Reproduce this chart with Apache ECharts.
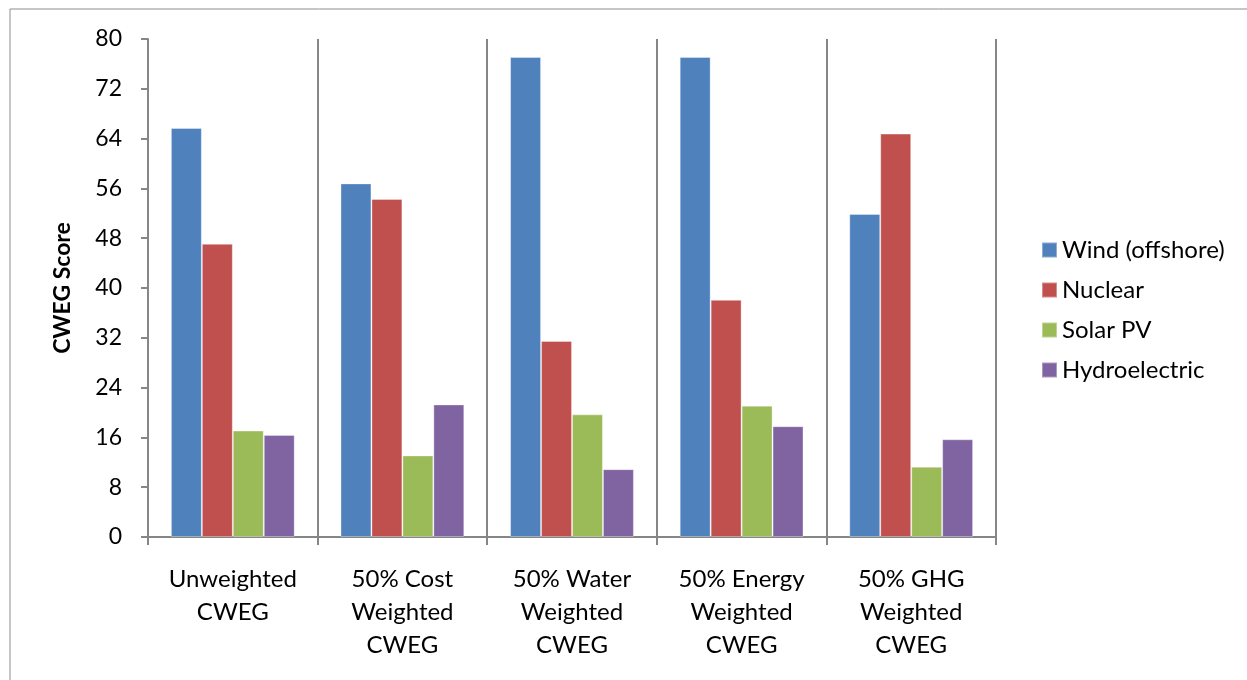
<!DOCTYPE html>
<html>
<head>
<meta charset="utf-8">
<script src="https://cdn.jsdelivr.net/npm/echarts@6/dist/echarts.min.js"></script>
<style>
  html, body { margin: 0; padding: 0; background: #fff; }
  #chart { width: 1247px; height: 680px; }
</style>
</head>
<body>
<div id="chart"></div>
<script>
// Scenario categories (x axis)
const categories = [
  'Unweighted\nCWEG',
  '50% Cost\nWeighted\nCWEG',
  '50% Water\nWeighted\nCWEG',
  '50% Energy\nWeighted\nCWEG',
  '50% GHG\nWeighted\nCWEG'
];

// CWEG scores per technology
const windOffshore = [65.7, 56.8, 77.1, 77.1, 51.9];
const nuclear      = [47.1, 54.3, 31.5, 38.1, 64.8];
const solarPV      = [17.1, 13.1, 19.7, 21.1, 11.3];
const hydro        = [16.4, 21.3, 10.9, 17.8, 15.7];

const seriesNames = ['Wind (offshore)', 'Nuclear', 'Solar PV', 'Hydroelectric'];
const seriesColors = ['#4f81bd', '#c0504d', '#9bbb59', '#8064a2'];
const seriesData = [windOffshore, nuclear, solarPV, hydro];

const FONT = 'Lato, "Open Sans", sans-serif';
const AXIS_GRAY = '#868686';

const chart = echarts.init(document.getElementById('chart'), null, { renderer: 'canvas' });

chart.setOption({
  backgroundColor: '#ffffff',
  animation: false,
  graphic: [{
    type: 'rect',
    shape: { x: 10, y: 9, width: 1260, height: 700 },
    style: { fill: 'none', stroke: '#8c8c8c', lineWidth: 1 },
    silent: true
  }],
  grid: { left: 148, top: 39, width: 848, height: 498, containLabel: false },
  legend: {
    orient: 'vertical',
    left: 1036,
    top: 232,
    itemWidth: 15,
    itemHeight: 15,
    itemGap: 14,
    icon: 'rect',
    textStyle: { fontFamily: FONT, fontSize: 24, color: '#000', lineHeight: 26 },
    data: seriesNames
  },
  xAxis: {
    type: 'category',
    data: categories,
    axisLine: { lineStyle: { color: AXIS_GRAY, width: 2 } },
    axisTick: { show: true, length: 8, lineStyle: { color: AXIS_GRAY, width: 2 } },
    splitLine: { show: true, lineStyle: { color: AXIS_GRAY, width: 2 } },
    axisLabel: {
      fontFamily: FONT, fontSize: 24, color: '#000',
      lineHeight: 33, margin: 26, interval: 0, align: 'center'
    }
  },
  yAxis: {
    type: 'value',
    min: 0, max: 80, interval: 8,
    name: 'CWEG Score',
    nameLocation: 'middle',
    nameGap: 74,
    nameRotate: 90,
    nameTextStyle: { fontFamily: FONT, fontSize: 23, fontWeight: 'bold', color: '#000' },
    axisLine: { show: true, lineStyle: { color: AXIS_GRAY, width: 2 } },
    axisTick: { show: true, length: 7, lineStyle: { color: AXIS_GRAY, width: 2 } },
    splitLine: { show: false },
    axisLabel: { fontFamily: FONT, fontSize: 23, color: '#000', margin: 26 }
  },
  series: seriesNames.map((name, i) => ({
    name: name,
    type: 'bar',
    data: seriesData[i],
    barGap: '0%',
    barCategoryGap: '27%',
    itemStyle: { color: seriesColors[i], borderColor: 'rgba(255,255,255,0.35)', borderWidth: 1 }
  }))
});
</script>
</body>
</html>
